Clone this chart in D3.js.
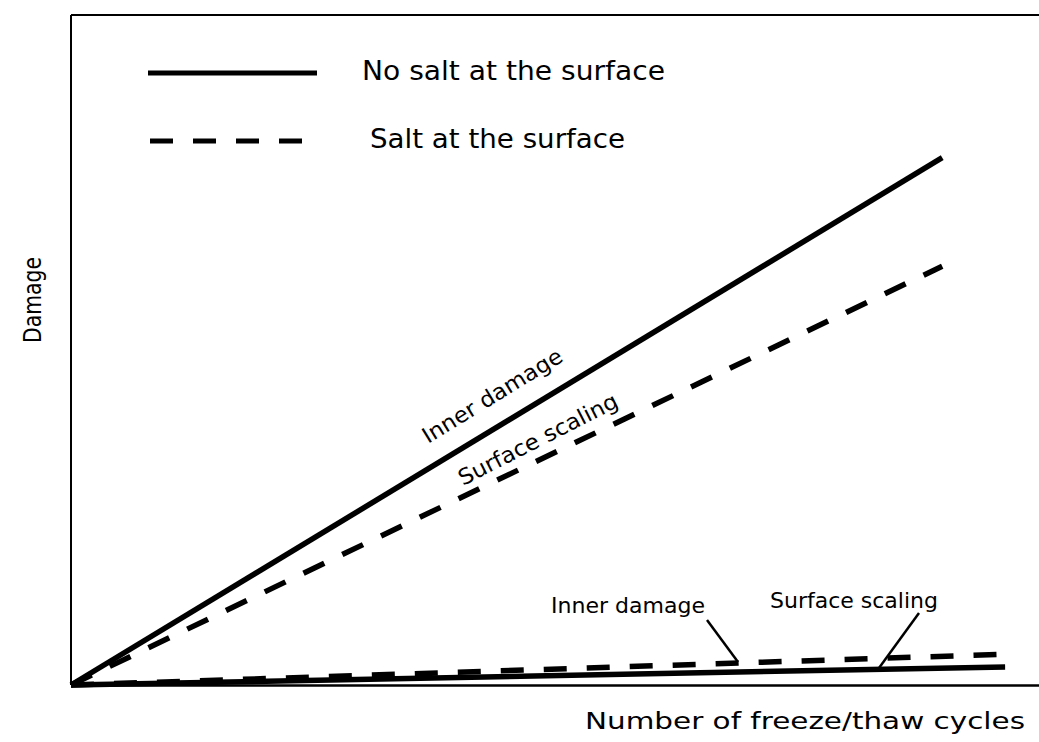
<!DOCTYPE html>
<html lang="en">
<head>
  <meta charset="UTF-8">
  <title>Damage vs freeze/thaw cycles</title>
  <script src="https://d3js.org/d3.v7.min.js"></script>
  <style>
    body { margin: 0; background: #fff; }
    svg { display: block; font-family: 'DejaVu Sans', sans-serif; }
    .lbl { fill: #000; }
  </style>
</head>
<body>
  <svg width="1039" height="742"></svg>
  <script>
    // cycles (arbitrary units) and damage (arbitrary units)
    const cycles = [0, 90];
    const cyclesLow = [0, 96.5];
    const innerNoSalt = [0, 78.7];
    const scalingSalt = [0, 62.5];
    const innerSalt = [0, 2.7];
    const scalingNoSalt = [0, 4.6];

    const legendItems = ["No salt at the surface", "Salt at the surface"];

    const width = 1039, height = 742;
    const svg = d3.select("svg");

    const x = d3.scaleLinear().domain([0, 100]).range([71, 1039]);
    const y = d3.scaleLinear().domain([0, 100]).range([685, 15]);

    const line = d3.line().x(d => x(d[0])).y(d => y(d[1]));
    const pts = (xs, ys) => xs.map((v, i) => [v, ys[i]]);

    // frame: top and left, bottom axis
    svg.append("line")
      .attr("x1", x(0)).attr("x2", x(100))
      .attr("y1", y(100)).attr("y2", y(100))
      .attr("stroke", "#000").attr("stroke-width", 2);
    svg.append("line")
      .attr("x1", x(0)).attr("x2", x(0))
      .attr("y1", y(100)).attr("y2", y(0))
      .attr("stroke", "#000").attr("stroke-width", 2);
    svg.append("g")
      .attr("transform", `translate(0,${y(0)})`)
      .call(d3.axisBottom(x).tickValues([]).tickSizeOuter(0))
      .select(".domain").attr("stroke-width", 2.5);

    const series = [
      { data: pts(cyclesLow, innerSalt), dash: null },
      { data: pts(cyclesLow, scalingNoSalt), dash: "23,20" },
      { data: pts(cycles, innerNoSalt), dash: null },
      { data: pts(cycles, scalingSalt), dash: "23,20" }
    ];

    svg.selectAll("path.series")
      .data(series)
      .enter()
      .append("path")
      .attr("class", "series")
      .attr("d", d => line(d.data))
      .attr("fill", "none")
      .attr("stroke", "#000")
      .attr("stroke-width", 5.5)
      .attr("stroke-dasharray", d => d.dash);

    // text helper: font size, fitted length
    function label(g, txt, size, len, transform) {
      return g.append("text").attr("class", "lbl")
        .attr("transform", transform)
        .attr("font-size", size)
        .attr("textLength", len)
        .attr("lengthAdjust", "spacingAndGlyphs")
        .text(txt);
    }

    // legend
    const legend = svg.append("g");
    legend.append("line")
      .attr("x1", 148).attr("x2", 317).attr("y1", 73).attr("y2", 73)
      .attr("stroke", "#000").attr("stroke-width", 5);
    legend.append("line")
      .attr("x1", 150).attr("x2", 304).attr("y1", 141).attr("y2", 141)
      .attr("stroke", "#000").attr("stroke-width", 5)
      .attr("stroke-dasharray", "23,20");
    label(legend, legendItems[0], 26, 303, "translate(362,80)");
    label(legend, legendItems[1], 26, 255, "translate(370,148)");

    // axis titles
    label(svg, "Damage", 24, 86, "translate(41,343) rotate(-90)");
    label(svg, "Number of freeze/thaw cycles", 23, 440, "translate(585,729)");

    // annotations along the steep lines
    label(svg, "Inner damage", 22, 160, "translate(428,444) rotate(-31.5)");
    label(svg, "Surface scaling", 22, 176, "translate(463,486) rotate(-27)");

    // annotations for the flat lines
    label(svg, "Inner damage", 22, 154, "translate(551,613)");
    label(svg, "Surface scaling", 22, 168, "translate(770,608)");

    const leaders = [
      [[707, 620], [738, 662]],
      [[919, 613], [879, 668]]
    ];
    svg.selectAll("path.leader")
      .data(leaders)
      .enter()
      .append("path")
      .attr("class", "leader")
      .attr("d", d => d3.line()(d))
      .attr("fill", "none")
      .attr("stroke", "#000")
      .attr("stroke-width", 2.5);
  </script>
</body>
</html>
